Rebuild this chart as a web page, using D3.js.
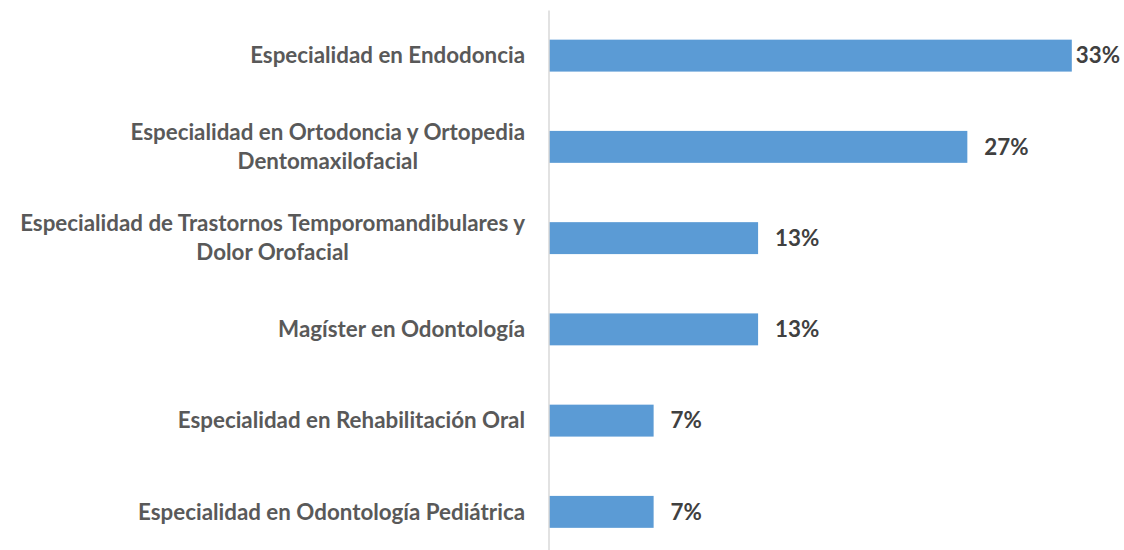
<!DOCTYPE html>
<html>
<head>
<meta charset="utf-8">
<script src="https://cdn.jsdelivr.net/npm/d3@7"></script>
<style>
  html, body { margin: 0; padding: 0; background: #ffffff; }
  svg { display: block; }
</style>
</head>
<body>
<svg id="chart" width="1124" height="550"></svg>
<script>
// ---- data ----
const categories = [
  "Especialidad en Endodoncia",
  "Especialidad en Ortodoncia y Ortopedia\nDentomaxilofacial",
  "Especialidad de Trastornos Temporomandibulares y\nDolor Orofacial",
  "Magíster en Odontología",
  "Especialidad en Rehabilitación Oral",
  "Especialidad en Odontología Pediátrica"
];
const values = [33.33, 26.67, 13.33, 13.33, 6.67, 6.67];
const valueLabels = ["33%", "27%", "13%", "13%", "7%", "7%"];

// ---- layout ----
const W = 1124, H = 550;
const FONT = "Lato, 'Open Sans', sans-serif";
const svg = d3.select("#chart");

// fit font size so the reference label width is matched
const probe = svg.append("text").attr("font-family", FONT).attr("font-weight", 700)
  .attr("font-size", 100).text("Especialidad en Endodoncia");
const probeW = probe.node().getComputedTextLength();
probe.remove();
const fs = 100 * 275 / probeW;

const x = d3.scaleLinear().domain([0, 35]).range([549, 1098]);
const y = d3.scaleBand().domain(categories).range([10, 557.5])
  .paddingInner(0.65).paddingOuter(0.325);

// bars
svg.append("g").selectAll("rect").data(values).join("rect")
  .attr("x", x(0))
  .attr("y", (d, i) => y(categories[i]))
  .attr("width", d => x(d) - x(0))
  .attr("height", y.bandwidth())
  .attr("fill", "#5b9bd5");

// category axis
const PAD = 23.5;
const axis = svg.append("g").attr("transform", `translate(548.5,0)`)
  .call(d3.axisLeft(y).tickSize(0).tickPadding(PAD));
axis.select(".domain").attr("stroke", "#d9d9d9").attr("stroke-width", 1.5);
const lineH = 29;
axis.selectAll(".tick text")
  .attr("font-family", FONT).attr("font-weight", 700).attr("font-size", fs)
  .attr("fill", "#595959")
  .each(function(d) {
    const lines = d.split("\n");
    const t = d3.select(this).text(null).attr("dy", null);
    const off = -(lines.length - 1) / 2 * lineH;
    const spans = lines.map((ln, k) =>
      t.append("tspan").attr("y", off + k * lineH).attr("dy", "0.35em").text(ln));
    if (lines.length > 1) {
      const maxW = d3.max(spans, s => s.node().getComputedTextLength());
      t.attr("text-anchor", "middle");
      spans.forEach(s => s.attr("x", -PAD - maxW / 2));
    } else {
      spans.forEach(s => s.attr("x", -PAD));
    }
  });

// value labels
svg.append("g").selectAll("text").data(values).join("text")
  .attr("font-family", FONT).attr("font-weight", 700).attr("font-size", fs)
  .attr("fill", "#404040")
  .attr("y", (d, i) => y(categories[i]) + y.bandwidth() / 2)
  .attr("dy", "0.35em")
  .text((d, i) => valueLabels[i])
  .attr("x", function(d) {
    const w = this.getComputedTextLength();
    return Math.min(x(d) + 17, W - 4 - w);
  });
</script>
</body>
</html>
